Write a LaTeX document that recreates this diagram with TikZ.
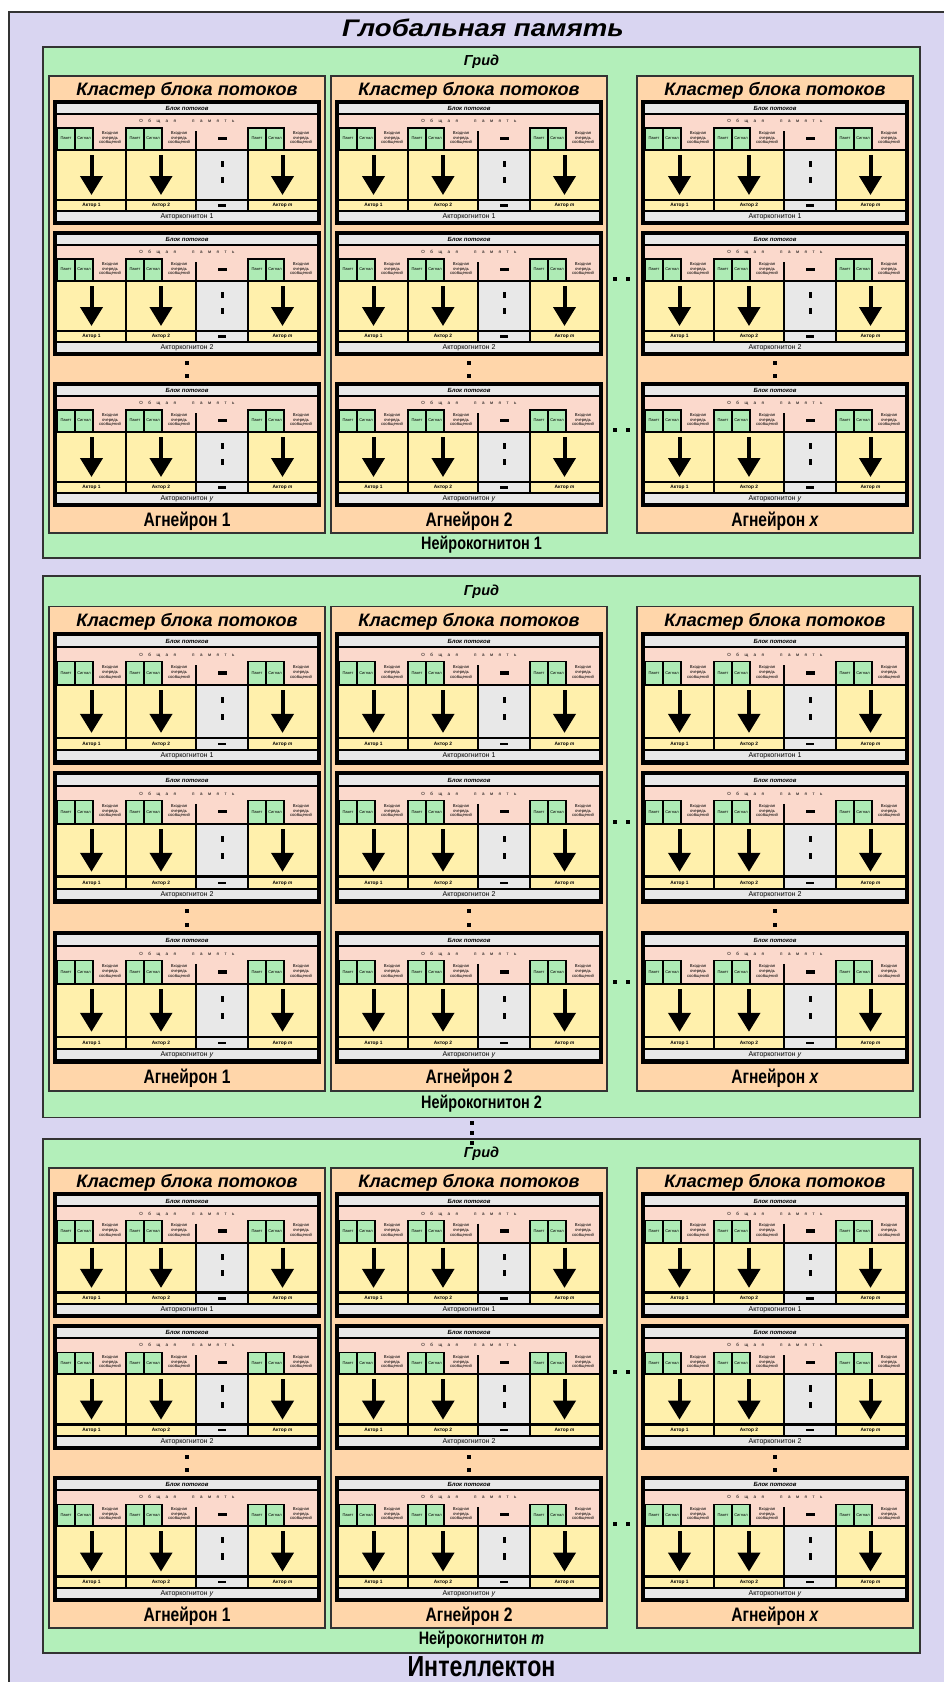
\documentclass[tikz,border=0pt]{standalone}
\usepackage{fontspec}
\setmainfont{Liberation Sans}
\newfontfamily\narrowfont[FakeStretch=0.8]{Liberation Sans}
\newfontfamily\widefont[FakeStretch=1.15]{Liberation Sans}
\usetikzlibrary{arrows.meta}

\definecolor{globalbg}{HTML}{D9D5F1}
\definecolor{gridgreen}{HTML}{B3EFBA}
\definecolor{clusterorange}{HTML}{FFD6AA}
\definecolor{sharedpink}{HTML}{FBD9CC}
\definecolor{threadyellow}{HTML}{FFF0AC}
\definecolor{bargray}{HTML}{E8E8E8}
\definecolor{cellgreen}{HTML}{AEEBB5}
\definecolor{framegray}{HTML}{333333}

\tikzset{
  gridbox/.style={fill=gridgreen, draw=framegray, line width=1.6},
  clusterbox/.style={fill=clusterorange, draw=framegray, line width=1.4},
  greencell/.style={fill=cellgreen, draw=black, line width=1.1},
  bigarrow/.style={line width=4, -{Triangle[width=22,length=19]}},
  titletxt/.style={font=\widefont\fontsize{24}{24}\selectfont\bfseries\itshape, inner sep=0},
  gridtxt/.style={font=\fontsize{14.5}{14.5}\selectfont\bfseries\itshape, inner sep=0},
  clustertxt/.style={font=\fontsize{18}{18}\selectfont\bfseries\itshape, inner sep=0},
  agntxt/.style={font=\narrowfont\fontsize{19.5}{19.5}\selectfont\bfseries, inner sep=0},
  nkgtxt/.style={font=\narrowfont\fontsize{18}{18}\selectfont\bfseries, inner sep=0},
  inttxt/.style={font=\narrowfont\fontsize{29}{29}\selectfont\bfseries, inner sep=0},
  headtxt/.style={font=\fontsize{6}{6}\selectfont\bfseries\itshape, inner sep=0},
  memtxt/.style={font=\fontsize{4.5}{4.5}\selectfont, inner sep=0},
  celltxt/.style={font=\fontsize{4}{4}\selectfont, inner sep=0},
  queuetxt/.style={font=\fontsize{4.2}{4.6}\selectfont, inner sep=0, align=center},
  actortxt/.style={font=\fontsize{4.8}{4.8}\selectfont\bfseries, inner sep=0},
  kogtxt/.style={font=\fontsize{7}{7}\selectfont, inner sep=0},
}

\newcommand{\memword}{О\hspace{5.5pt}б\hspace{5.5pt}щ\hspace{5.5pt}а\hspace{5.5pt}я\hspace{16pt}п\hspace{5.5pt}а\hspace{5.5pt}м\hspace{5.5pt}я\hspace{5.5pt}т\hspace{5.5pt}ь}

% thread block: name, x, y, kogniton index
\newcommand{\tblock}[4]{%
  \begin{scope}[shift={(#2,#3)}]
    \fill[black] (0,0) rectangle (268,125);
    \fill[bargray] (4,4) rectangle (264,13);
    \node[headtxt] (#1h) at (134,8.6) {Блок потоков};
    \fill[sharedpink] (4,15) rectangle (264,49);
    \node[memtxt] (#1m) at (134,21.5) {\memword};
    \fill[threadyellow] (4,51) rectangle (264,98.5);
    \fill[bargray] (143,51) rectangle (195,98.5);
    \draw[line width=1.5] (73,51) -- (73,99) (195,51) -- (195,99);
    \draw[line width=2.2] (143,31) -- (143,99);
    \foreach \c/\a/\n in {4/38.5/1,73/108/2,195/229.5/m} {
      \draw[greencell] (\c,28) rectangle ++(18,21.5);
      \draw[greencell] (\c+18,28) rectangle ++(18,21.5);
      \node[celltxt] (#1p\n) at (\c+9,38.5) {Пакет};
      \node[celltxt] (#1s\n) at (\c+27,38.5) {Сигнал};
      \node[queuetxt] (#1q\n) at (\c+53,38) {Входная\\очередь\\сообщений};
      \draw[bigarrow] (\a,55) -- (\a,95);
    }
    \fill (164.5,36.5) rectangle (173.5,40);
    \fill (167.5,61) rectangle (170.5,67);
    \fill (167.5,77) rectangle (170.5,83);
    \fill[threadyellow] (4,101) rectangle (264,110);
    \fill[bargray] (143,101) rectangle (195,110);
    \draw[line width=1.2] (73,101) -- (73,110) (143,101) -- (143,110) (195,101) -- (195,110);
    \fill (165,104.3) rectangle (173,106.7);
    \node[actortxt] (#1a1) at (38.5,105.6) {Актор 1};
    \node[actortxt] (#1a2) at (108,105.6) {Актор 2};
    \node[actortxt] (#1am) at (229.5,105.6) {Актор \textit{m}};
    \fill[bargray] (4,112) rectangle (264,121);
    \node[kogtxt] (#1k) at (134,116.7) {Акторкогнитон #4};
  \end{scope}}

% cluster of thread blocks: name, x, agneuron index
\newcommand{\tcluster}[3]{%
  \draw[clusterbox] (#2,29) rectangle (#2+276,486);
  \node[clustertxt] (#1t) at (#2+138,43.5) {Кластер блока потоков};
  \tblock{#1a}{#2+4}{53}{1}
  \tblock{#1b}{#2+4}{184}{2}
  \tblock{#1c}{#2+4}{335}{\textit{y}}
  \fill (#2+136,314) rectangle ++(4,4);
  \fill (#2+136,327) rectangle ++(4,4);
  \node[agntxt] (#1n) at (#2+138,474) {Агнейрон #3};
}

% grid: name, top, yscale, neurokogniton index
\newcommand{\tgrid}[4]{%
  \begin{scope}[shift={(0,#2)}, yscale=#3]
    \draw[gridbox] (43,0) rectangle (920,511);
    \node[gridtxt] (#1t) at (481.5,14.5) {Грид};
    \tcluster{#1c1}{49}{1}
    \tcluster{#1c2}{331}{2}
    \tcluster{#1c3}{637}{\textit{x}}
    \foreach \yy in {232,383} {
      \fill (613,\yy-2) rectangle ++(4,4);
      \fill (626,\yy-2) rectangle ++(4,4);
    }
    \node[nkgtxt] (#1n) at (481.5,498) {Нейрокогнитон #4};
  \end{scope}}

\begin{document}
\begin{tikzpicture}[x=1pt, y=-1pt]
  \useasboundingbox (0,0) rectangle (944,1682);
  \clip (0,0) rectangle (944,1682);
  \fill[white] (0,0) rectangle (944,1682);
  \draw[fill=globalbg, draw=framegray, line width=1.5] (9,12) rectangle (960,1700);
  \node[titletxt] (global) at (483,28) {Глобальная память};

  \tgrid{ga}{47}{1}{1}
  \tgrid{gb}{576}{1.06}{2}
  \tgrid{gc}{1139}{1.006}{\textit{m}}

  % between neurokognitons
  \foreach \yy in {1123,1133,1143} {
    \fill (470,\yy-2) rectangle ++(4,4);
  }
  \node[inttxt] (intel) at (481.5,1667) {Интеллектон};
\end{tikzpicture}
\end{document}
